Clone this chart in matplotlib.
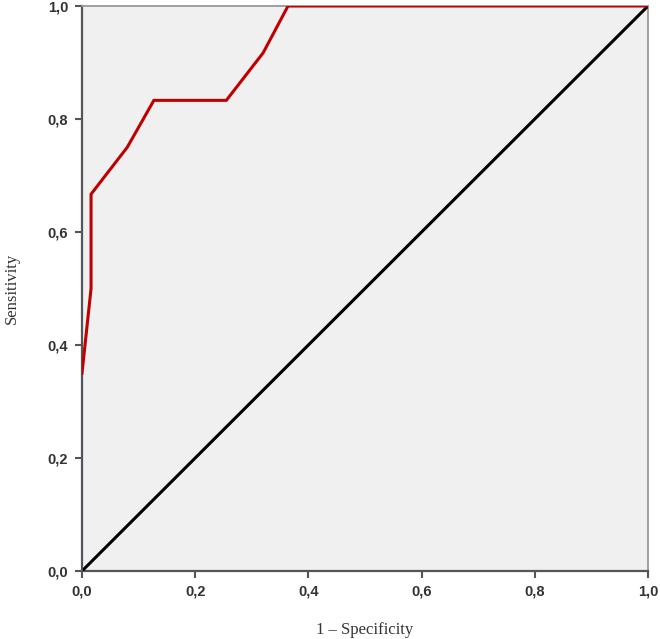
import matplotlib
matplotlib.use("Agg")
import matplotlib.pyplot as plt
from matplotlib.ticker import FuncFormatter

# ROC curve data (1 - specificity, sensitivity)
fpr = [0.0, 0.0, 0.016, 0.016, 0.08, 0.127, 0.255, 0.32, 0.364, 1.0]
tpr = [0.0, 0.35, 0.50, 0.667, 0.75, 0.833, 0.833, 0.917, 1.0, 1.0]
ref_x = [0.0, 1.0]
ref_y = [0.0, 1.0]
ticks = [0.0, 0.2, 0.4, 0.6, 0.8, 1.0]

fig = plt.figure(figsize=(6.6, 6.39), dpi=100)
ax = fig.add_axes([82/660, 68/639, 566/660, 565/639])
ax.set_facecolor("#f0f0f0")

# Reference diagonal
ax.plot(ref_x, ref_y, color="black", lw=2.2, solid_capstyle="butt", zorder=3)
# Low vertical part of ROC curve (drawn in dark blue)
ax.plot(fpr[:2], tpr[:2], color="#4a5275", lw=1.3, zorder=4)
# ROC curve
ax.plot(fpr[1:], tpr[1:], color="#c00000", lw=2.2, solid_joinstyle="miter", zorder=5)

ax.set_xlim(0, 1)
ax.set_ylim(0, 1)
ax.set_xticks(ticks)
ax.set_yticks(ticks)
fmt = FuncFormatter(lambda v, p: f"{v:.1f}".replace(".", ", ").replace(", ", ","))
ax.xaxis.set_major_formatter(fmt)
ax.yaxis.set_major_formatter(fmt)

for lab in ax.get_xticklabels() + ax.get_yticklabels():
    lab.set_fontfamily("Liberation Sans")
    lab.set_fontweight("bold")
    lab.set_fontsize(10.5)
    lab.set_color("#333333")

ax.tick_params(direction="out", length=5, width=1.5, color="#555555", pad=5)

for s in ["left", "bottom"]:
    ax.spines[s].set_color("#555555")
    ax.spines[s].set_linewidth(1.6)
for s in ["top", "right"]:
    ax.spines[s].set_color("#999999")
    ax.spines[s].set_linewidth(1.3)

ax.set_xlabel("1 – Specificity", fontfamily="Liberation Serif", fontsize=12,
              color="#333333", labelpad=17)
ax.set_ylabel("Sensitivity", fontfamily="Liberation Serif", fontsize=12,
              color="#333333", labelpad=20)

fig.savefig("out.png", dpi=100, facecolor="white")
